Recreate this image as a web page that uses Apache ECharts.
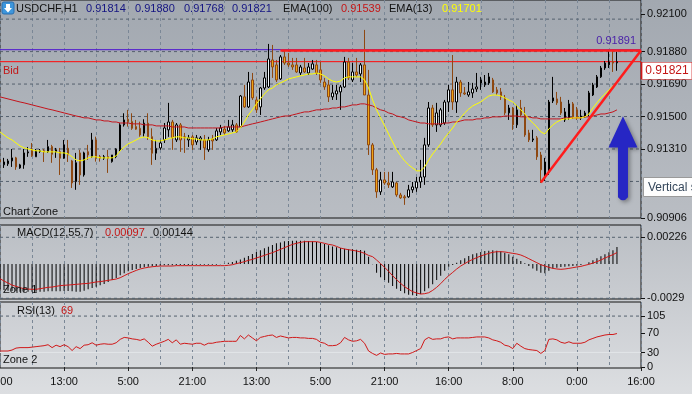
<!DOCTYPE html>
<html><head><meta charset="utf-8">
<script src="https://cdn.jsdelivr.net/npm/echarts@6/dist/echarts.min.js"></script>
<style>
html,body{margin:0;padding:0;}
#c{width:692px;height:394px;background:linear-gradient(180deg,#a2a8b0 0%,#b9bdc3 55%,#dcdee1 100%);}
</style>
</head><body><div id="c"></div>
<script>
// ---------- DATA ----------
const symbolName = 'USDCHF,H1';
const tickLabels = ['21:00','13:00','5:00','21:00','13:00','5:00','21:00','16:00','8:00','0:00','16:00'];
// candles: [open, close, low, high]
const candles = [
[0.91246,0.91234,0.91211,0.91258],[0.91217,0.91234,0.91199,0.91258],[0.91223,0.91240,0.91211,0.91252],[0.91240,0.91258,0.91205,0.91310],
[0.91258,0.91205,0.91188,0.91264],[0.91199,0.91217,0.91194,0.91223],[0.91217,0.91287,0.91194,0.91310],[0.91287,0.91293,0.91264,0.91322],
[0.91305,0.91270,0.91264,0.91345],[0.91264,0.91299,0.91264,0.91310],[0.91296,0.91300,0.91287,0.91310],[0.91300,0.91293,0.91234,0.91310],
[0.91294,0.91324,0.91287,0.91363],[0.91324,0.91279,0.91229,0.91334],[0.91294,0.91305,0.91258,0.91316],[0.91294,0.91256,0.91158,0.91316],
[0.91256,0.91334,0.91252,0.91363],[0.91314,0.91275,0.91234,0.91363],[0.91240,0.91111,0.91082,0.91246],[0.91119,0.91230,0.91071,0.91287],
[0.91287,0.91158,0.91100,0.91305],[0.91158,0.91287,0.91148,0.91294],[0.91294,0.91275,0.91246,0.91334],[0.91265,0.91363,0.91258,0.91404],
[0.91363,0.91256,0.91236,0.91382],[0.91265,0.91256,0.91236,0.91275],[0.91256,0.91265,0.91246,0.91275],[0.91265,0.91256,0.91170,0.91305],
[0.91236,0.91275,0.91230,0.91275],[0.91265,0.91309,0.91256,0.91314],[0.91305,0.91451,0.91295,0.91461],[0.91451,0.91480,0.91441,0.91519],
[0.91484,0.91470,0.91441,0.91539],[0.91470,0.91431,0.91422,0.91519],[0.91441,0.91426,0.91422,0.91480],[0.91431,0.91392,0.91382,0.91470],
[0.91402,0.91461,0.91382,0.91484],[0.91461,0.91382,0.91363,0.91519],[0.91382,0.91285,0.91217,0.91431],[0.91285,0.91314,0.91246,0.91363],
[0.91316,0.91345,0.91305,0.91363],[0.91363,0.91433,0.91345,0.91462],[0.91422,0.91468,0.91381,0.91580],[0.91468,0.91375,0.91305,0.91480],
[0.91363,0.91451,0.91351,0.91462],[0.91451,0.91363,0.91293,0.91462],[0.91381,0.91375,0.91287,0.91404],[0.91363,0.91375,0.91322,0.91392],
[0.91381,0.91334,0.91305,0.91392],[0.91351,0.91375,0.91334,0.91392],[0.91363,0.91375,0.91305,0.91386],[0.91363,0.91316,0.91246,0.91392],
[0.91305,0.91363,0.91293,0.91381],[0.91369,0.91357,0.91305,0.91392],[0.91363,0.91416,0.91357,0.91433],[0.91410,0.91433,0.91392,0.91451],
[0.91427,0.91404,0.91392,0.91445],[0.91416,0.91439,0.91410,0.91480],[0.91422,0.91451,0.91410,0.91480],[0.91451,0.91410,0.91404,0.91462],
[0.91439,0.91620,0.91433,0.91626],[0.91615,0.91556,0.91550,0.91685],[0.91556,0.91702,0.91550,0.91761],[0.91714,0.91609,0.91597,0.91755],
[0.91597,0.91539,0.91521,0.91615],[0.91556,0.91667,0.91509,0.91673],[0.91667,0.91726,0.91656,0.91761],[0.91673,0.91837,0.91667,0.91925],
[0.91831,0.91790,0.91726,0.91919],[0.91802,0.91714,0.91702,0.91831],[0.91720,0.91849,0.91714,0.91860],[0.91849,0.91813,0.91802,0.91890],
[0.91813,0.91802,0.91790,0.91872],[0.91802,0.91790,0.91773,0.91843],[0.91802,0.91761,0.91755,0.91843],[0.91755,0.91790,0.91743,0.91802],
[0.91784,0.91761,0.91755,0.91843],[0.91755,0.91790,0.91743,0.91813],[0.91778,0.91808,0.91773,0.91831],[0.91802,0.91755,0.91743,0.91831],
[0.91773,0.91714,0.91697,0.91819],[0.91702,0.91673,0.91656,0.91726],[0.91685,0.91615,0.91585,0.91714],[0.91615,0.91638,0.91597,0.91685],
[0.91632,0.91650,0.91597,0.91685],[0.91644,0.91673,0.91539,0.91685],[0.91673,0.91819,0.91667,0.91849],[0.91819,0.91726,0.91714,0.91843],
[0.91714,0.91761,0.91702,0.91813],[0.91761,0.91743,0.91732,0.91843],[0.91749,0.91802,0.91702,0.91813],[0.91802,0.91626,0.91626,0.92007],
[0.91626,0.91334,0.91275,0.91773],[0.91334,0.91188,0.91158,0.91345],[0.91188,0.91059,0.91024,0.91199],[0.91059,0.91129,0.91041,0.91176],
[0.91129,0.91111,0.91100,0.91176],[0.91111,0.91100,0.91082,0.91176],[0.91088,0.91117,0.91082,0.91176],[0.91111,0.91041,0.91030,0.91117],
[0.91041,0.91024,0.91018,0.91053],[0.91030,0.91024,0.90983,0.91041],[0.91030,0.91071,0.91024,0.91100],[0.91071,0.91088,0.91053,0.91117],
[0.91082,0.91117,0.91059,0.91146],[0.91117,0.91146,0.91082,0.91246],[0.91146,0.91334,0.91100,0.91375],[0.91334,0.91550,0.91322,0.91585],
[0.91550,0.91451,0.91439,0.91568],[0.91451,0.91521,0.91410,0.91580],[0.91451,0.91539,0.91439,0.91550],[0.91462,0.91585,0.91451,0.91597],
[0.91585,0.91656,0.91527,0.91685],[0.91656,0.91585,0.91539,0.91860],[0.91585,0.91702,0.91521,0.91732],[0.91702,0.91638,0.91615,0.91714],
[0.91638,0.91632,0.91626,0.91673],[0.91626,0.91644,0.91615,0.91702],[0.91638,0.91661,0.91609,0.91697],[0.91661,0.91673,0.91644,0.91755],
[0.91696,0.91714,0.91656,0.91732],[0.91685,0.91702,0.91673,0.91743],[0.91696,0.91732,0.91685,0.91755],[0.91714,0.91644,0.91638,0.91726],
[0.91656,0.91638,0.91626,0.91673],[0.91644,0.91615,0.91597,0.91667],[0.91609,0.91521,0.91509,0.91626],[0.91521,0.91550,0.91480,0.91568],
[0.91550,0.91451,0.91422,0.91556],[0.91451,0.91539,0.91433,0.91568],[0.91550,0.91509,0.91498,0.91597],[0.91509,0.91392,0.91381,0.91556],
[0.91404,0.91363,0.91351,0.91422],[0.91363,0.91369,0.91351,0.91422],[0.91375,0.91264,0.91246,0.91386],[0.91275,0.91188,0.91111,0.91293],
[0.91141,0.91234,0.91123,0.91258],[0.91176,0.91585,0.91158,0.91597],[0.91591,0.91609,0.91579,0.91732],[0.91603,0.91580,0.91568,0.91644],
[0.91585,0.91521,0.91509,0.91615],[0.91480,0.91527,0.91468,0.91550],[0.91492,0.91574,0.91480,0.91597],[0.91574,0.91498,0.91486,0.91585],
[0.91539,0.91492,0.91480,0.91556],[0.91492,0.91503,0.91480,0.91539],[0.91498,0.91521,0.91492,0.91533],[0.91521,0.91638,0.91503,0.91650],
[0.91626,0.91685,0.91620,0.91697],[0.91673,0.91732,0.91667,0.91743],[0.91732,0.91784,0.91726,0.91796],[0.91784,0.91813,0.91773,0.91825],
[0.91802,0.91819,0.91784,0.91890],[0.91819,0.91813,0.91761,0.91891],[0.91814,0.91821,0.91768,0.91880]
];
const ema100 = [
0.91615,0.91609,0.91603,0.91597,0.91591,0.91585,0.91580,0.91574,0.91568,
0.91562,0.91556,0.91550,0.91544,0.91539,0.91533,0.91527,0.91521,
0.91515,0.91509,0.91503,0.91498,0.91492,0.91492,0.91486,0.91480,
0.91480,0.91474,0.91474,0.91468,0.91468,0.91462,
0.91462,0.91462,0.91457,0.91457,0.91457,0.91451,0.91451,0.91451,0.91445,0.91445,
0.91445,0.91445,0.91439,0.91439,0.91439,0.91439,0.91433,0.91433,
0.91433,0.91433,0.91433,0.91433,0.91433,0.91433,0.91433,0.91439,0.91439,0.91439,0.91439,
0.91439,0.91445,0.91451,0.91457,0.91462,
0.91468,0.91474,0.91480,0.91486,0.91492,
0.91498,0.91503,0.91503,0.91509,0.91515,
0.91521,0.91527,0.91527,0.91533,0.91539,
0.91539,0.91544,0.91544,0.91550,0.91550,
0.91556,0.91556,0.91562,0.91568,0.91568,0.91574,0.91574,
0.91568,0.91562,0.91550,
0.91539,0.91533,0.91521,0.91515,0.91503,0.91498,
0.91492,0.91480,0.91474,0.91468,0.91462,
0.91462,0.91457,0.91457,0.91457,0.91457,
0.91462,0.91462,0.91468,0.91468,0.91474,
0.91480,0.91480,0.91480,0.91486,0.91486,
0.91492,0.91492,0.91498,0.91498,0.91498,0.91503,0.91503,0.91503,
0.91503,0.91498,0.91498,0.91498,0.91492,0.91492,0.91486,0.91486,
0.91486,0.91486,0.91486,0.91486,0.91492,0.91492,0.91492,0.91492,0.91492,
0.91498,0.91498,0.91503,0.91509,0.91515,0.91515,0.91521,0.91527,0.91539
];
const ema13 = [
0.91410,0.91392,0.91375,0.91363,0.91345,0.91328,0.91316,0.91310,0.91305,0.91299,
0.91299,0.91293,0.91293,0.91293,0.91293,0.91287,0.91287,0.91281,0.91264,0.91246,
0.91240,0.91246,0.91258,0.91264,0.91264,0.91258,0.91258,0.91258,0.91258,0.91270,
0.91299,0.91322,0.91340,0.91351,0.91363,0.91375,0.91381,0.91375,0.91363,0.91357,
0.91357,0.91363,0.91369,0.91375,0.91381,0.91381,0.91375,0.91375,0.91369,0.91369,
0.91363,0.91363,0.91363,0.91369,0.91381,0.91386,0.91392,0.91398,0.91404,0.91410,
0.91433,0.91468,0.91509,0.91539,0.91574,0.91603,0.91632,0.91656,0.91667,0.91685,
0.91697,0.91708,0.91720,0.91726,0.91732,0.91738,0.91743,0.91749,0.91749,0.91755,
0.91749,0.91738,0.91720,0.91708,0.91702,0.91708,0.91726,0.91732,0.91732,0.91732,
0.91732,0.91714,0.91667,0.91597,0.91539,0.91492,0.91445,0.91398,0.91351,0.91305,
0.91270,0.91240,0.91217,0.91199,0.91182,0.91182,0.91205,0.91246,0.91281,0.91310,
0.91340,0.91375,0.91404,0.91433,0.91468,0.91492,0.91521,0.91544,0.91562,0.91574,
0.91585,0.91603,0.91620,0.91626,0.91626,0.91620,0.91609,0.91597,0.91585,0.91562,
0.91539,0.91515,0.91486,0.91462,0.91439,0.91410,0.91398,0.91427,0.91451,0.91468,
0.91480,0.91486,0.91486,0.91492,0.91492,0.91492,0.91498,0.91515,0.91550,0.91580,
0.91609,0.91632,0.91656,0.91679,0.91701
];
const macdMain = [
-0.00214,-0.00220,-0.00226,-0.00228,-0.00231,-0.00234,-0.00234,-0.00234,-0.00234,-0.00234,
-0.00234,-0.00234,-0.00231,-0.00231,-0.00231,-0.00231,-0.00228,-0.00228,-0.00231,-0.00234,
-0.00234,-0.00226,-0.00214,-0.00203,-0.00192,-0.00180,-0.00169,-0.00152,-0.00135,-0.00118,
-0.00096,-0.00079,-0.00062,-0.00051,-0.00042,-0.00034,-0.00028,-0.00023,-0.00020,-0.00017,
-0.00014,-0.00011,-0.00011,-0.00011,-0.00008,-0.00008,-0.00008,-0.00008,-0.00008,-0.00006,
-0.00006,-0.00006,-0.00006,-0.00006,-0.00006,-0.00003,0.00003,0.00011,0.00017,0.00028,
0.00039,0.00054,0.00068,0.00085,0.00102,0.00116,0.00133,0.00147,0.00161,0.00175,
0.00183,0.00192,0.00195,0.00197,0.00197,0.00197,0.00197,0.00195,0.00192,0.00186,
0.00180,0.00169,0.00158,0.00149,0.00141,0.00135,0.00130,0.00124,0.00124,0.00121,
0.00118,0.00113,0.00062,-0.00002,-0.00073,-0.00113,-0.00135,-0.00158,-0.00186,-0.00209,
-0.00228,-0.00248,-0.00259,-0.00265,-0.00271,-0.00254,-0.00231,-0.00206,-0.00172,-0.00135,
-0.00099,-0.00056,-0.00023,-0.00008,0.00011,0.00031,0.00048,0.00068,0.00082,0.00090,
0.00102,0.00110,0.00113,0.00116,0.00113,0.00107,0.00096,0.00082,0.00062,0.00045,
0.00025,0.00006,-0.00017,-0.00037,-0.00056,-0.00073,-0.00079,-0.00056,-0.00039,-0.00031,
-0.00025,-0.00023,-0.00020,-0.00017,-0.00014,-0.00008,0.00001,0.00014,0.00031,0.00048,
0.00065,0.00082,0.00099,0.00116,0.00144
];
const macdSignal = [
-0.00124,-0.00144,-0.00161,-0.00178,-0.00189,-0.00200,-0.00209,-0.00212,-0.00214,-0.00214,
-0.00209,-0.00203,-0.00197,-0.00195,-0.00189,-0.00183,-0.00180,-0.00178,-0.00175,-0.00172,
-0.00169,-0.00166,-0.00164,-0.00158,-0.00152,-0.00149,-0.00144,-0.00138,-0.00133,-0.00127,
-0.00116,-0.00099,-0.00082,-0.00068,-0.00054,-0.00042,-0.00034,-0.00028,-0.00023,-0.00020,
-0.00017,-0.00017,-0.00017,-0.00017,-0.00014,-0.00014,-0.00014,-0.00014,-0.00014,-0.00014,
-0.00014,-0.00014,-0.00014,-0.00014,-0.00014,-0.00014,-0.00014,-0.00011,-0.00006,0.00003,
0.00011,0.00020,0.00031,0.00039,0.00051,0.00062,0.00073,0.00085,0.00096,0.00110,
0.00124,0.00138,0.00152,0.00166,0.00175,0.00183,0.00189,0.00189,0.00189,0.00189,
0.00183,0.00175,0.00166,0.00161,0.00149,0.00135,0.00127,0.00121,0.00116,0.00110,
0.00102,0.00090,0.00073,0.00062,0.00034,0.00003,-0.00028,-0.00062,-0.00099,-0.00133,
-0.00164,-0.00192,-0.00214,-0.00234,-0.00245,-0.00254,-0.00251,-0.00243,-0.00223,-0.00197,
-0.00166,-0.00130,-0.00099,-0.00071,-0.00042,-0.00017,0.00003,0.00023,0.00039,0.00054,
0.00068,0.00079,0.00090,0.00099,0.00104,0.00104,0.00102,0.00096,0.00090,0.00085,
0.00076,0.00062,0.00045,0.00028,0.00011,-0.00006,-0.00017,-0.00028,-0.00037,-0.00042,
-0.00045,-0.00042,-0.00037,-0.00031,-0.00025,-0.00020,-0.00011,-0.00003,0.00008,0.00020,
0.00034,0.00051,0.00065,0.00079,0.00097
];
const rsi = [
33,33,33,35,39,40,40,40,41,42,43,44,46,40,45,42,46,42,34,42,
38,45,46,50,45,47,48,47,47,50,57,61,60,58,57,55,58,51,43,47,
50,53,57,50,56,47,49,48,47,49,49,45,49,49,51,52,53,53,53,53,
65,58,66,60,54,61,63,65,66,61,64,62,60,61,61,60,60,59,59,57,
51,49,44,44,45,50,61,56,53,54,57,49,33,28,24,29,26,27,27,28,
27,27,27,30,34,38,56,61,57,58,58,61,62,58,60,60,60,60,61,62,
62,62,60,56,54,51,45,43,38,49,43,38,36,35,34,28,34,57,58,56,
51,49,52,49,49,49,51,56,59,62,64,66,67,67,69
];
const priceTicks = [0.90906, 0.91310, 0.91500, 0.91690, 0.91880, 0.92100];
const priceGrid = [0.91120, 0.91310, 0.91500, 0.91690, 0.91880, 0.92070];
const macdTicks = [-0.0029, 0.00226];
const macdTickText = ['-0.0029', '0.00226'];
const rsiTicks = [0, 30, 70, 105];
const rsiGrid = [105];
const rsiLevel = [30];
const bidPrice = 0.91821;
const highPrice = 0.91891;
const resistance = { from: 70, to: 160, price: 0.91886 };
const trendLine = { from: 135, low: 0.91114, to: 160, high: 0.91886 };
const arrowAnchor = { bar: 155, price: 0.91255 };

// ---------- CHART ----------
const FONT = '"Liberation Sans", Arial, sans-serif';
const cats = Array.from({ length: (tickLabels.length - 1) * 16 + 1 }, (_, i) => String(i));
const firstCat = cats[0], lastCat = cats[cats.length - 1];
const last = candles[candles.length - 1];
const gridLine = { color: '#7a8796', type: [3, 3], width: 1 };
const gridLineH = { color: '#55616e', type: [3, 3], width: 1 };
const fmt5 = v => v.toFixed(5);
const PRICE_MIN = 0.90906, PRICE_MAX = 0.92182;
const MACD_MIN = -0.00296, MACD_MAX = 0.0033;
const RSI_MIN = -2, RSI_MAX = 134;

// full-width horizontal level lines, drawn as line-series data through the axes
const levelData = vals => vals.flatMap(v => [[firstCat, v], [lastCat, v], null]);
const levelSeries = (xi, yi, vals, style, z) => ({
  type: 'line', xAxisIndex: xi, yAxisIndex: yi, data: levelData(vals), z: z || 1,
  showSymbol: false, silent: true, connectNulls: false, lineStyle: style
});

function xAx(g, showLabels) {
  return {
    type: 'category', gridIndex: g, data: cats, boundaryGap: false,
    axisLine: { show: false },
    axisTick: { show: showLabels, interval: 15, length: 4, lineStyle: { color: '#222' } },
    axisLabel: { show: showLabels, interval: 15, showMinLabel: false,
      formatter: (v, i) => (i === 0 ? '' : (tickLabels[Math.round(i / 16)] || '')),
      fontFamily: FONT, fontSize: 11, color: '#111', margin: 8 },
    splitLine: { show: true, interval: 7, lineStyle: gridLine }
  };
}
function yAx(g, min, max, ticks, fmt) {
  return {
    type: 'value', gridIndex: g, position: 'right', min: min, max: max, scale: true,
    splitLine: { show: false }, axisLine: { show: false },
    axisTick: { show: true, customValues: ticks, length: 4, lineStyle: { color: '#111' } },
    axisLabel: { customValues: ticks, formatter: fmt, fontFamily: FONT, fontSize: 11, color: '#111', margin: 6 }
  };
}

const txt = (x, y, text, fill, size, align) => ({
  type: 'text', x: x, y: y, z: 100,
  style: { text: text, fill: fill, font: (size || 11) + 'px ' + FONT, verticalAlign: 'middle', align: align || 'left' }
});

const arrowPath = 'path://M14.5 0 L29 30 L19.5 30 L19.5 78 Q14.5 84 9.5 78 L9.5 30 L0 30 Z';

const option = {
  animation: false,
  backgroundColor: 'transparent',
  grid: [
    { left: 0, right: 51, top: 0, height: 218, show: true, borderColor: '#151515', borderWidth: 1, backgroundColor: 'transparent' },
    { left: 0, right: 51, top: 225, height: 74, show: true, borderColor: '#151515', borderWidth: 1, backgroundColor: 'transparent' },
    { left: 0, right: 51, top: 302, height: 66, show: true, borderColor: '#151515', borderWidth: 1, backgroundColor: 'transparent' }
  ],
  xAxis: [xAx(0, false), xAx(1, false), xAx(2, true)],
  yAxis: [
    yAx(0, PRICE_MIN, PRICE_MAX, priceTicks, fmt5),
    yAx(1, MACD_MIN, MACD_MAX, macdTicks, v => macdTickText[macdTicks.indexOf(v)] ?? String(v)),
    yAx(2, RSI_MIN, RSI_MAX, rsiTicks, v => String(v))
  ],
  series: [
    levelSeries(0, 0, priceGrid, gridLineH, 1),
    levelSeries(0, 0, [highPrice], { color: '#4a10d0', width: 1, type: 'solid' }, 2),
    levelSeries(0, 0, [bidPrice], { color: '#ff0a0a', width: 1, type: 'solid' }, 2),
    levelSeries(1, 1, macdTicks, gridLineH, 1),
    levelSeries(2, 2, rsiGrid, gridLineH, 1),
    levelSeries(2, 2, rsiLevel, { color: '#e2e5e8', width: 1, type: 'solid' }, 1),
    {
      type: 'candlestick', xAxisIndex: 0, yAxisIndex: 0, data: candles, z: 3, barWidth: 2,
      itemStyle: { color: '#f2f7fb', color0: '#f0a414', borderColor: '#000000', borderColor0: '#8e4812', borderWidth: 1 }
    },
    { type: 'line', name: 'EMA(100)', xAxisIndex: 0, yAxisIndex: 0, data: ema100, z: 4, showSymbol: false, silent: true,
      lineStyle: { color: '#c4141c', width: 1 } },
    { type: 'line', name: 'EMA(13)', xAxisIndex: 0, yAxisIndex: 0, data: ema13, z: 4, showSymbol: false, silent: true,
      lineStyle: { color: '#ffff00', width: 1 } },
    { // trend lines, bid box, arrow
      type: 'line', xAxisIndex: 0, yAxisIndex: 0, data: [], z: 6, silent: true, clip: false,
      markLine: { silent: true, symbol: 'none', animation: false, precision: 8, label: { show: false },
        lineStyle: { color: '#ff1c1c', width: 2.5, type: 'solid' },
        data: [
          [{ coord: [String(resistance.from), resistance.price] }, { coord: [String(resistance.to), resistance.price] }],
          [{ coord: [String(trendLine.from), trendLine.low] }, { coord: [String(trendLine.to), trendLine.high] }]
        ] },
      markPoint: { silent: true, animation: false,
        data: [
          { coord: [lastCat, bidPrice], symbol: 'rect', symbolSize: [51, 17], symbolOffset: [26, 9],
            itemStyle: { color: '#ffffff', borderColor: '#d01818', borderWidth: 1 },
            label: { show: true, position: 'inside', formatter: fmt5(bidPrice), color: '#c41616', fontFamily: FONT, fontSize: 12 } },
          { coord: [String(arrowAnchor.bar), arrowAnchor.price], symbol: arrowPath, symbolSize: [29, 84], symbolOffset: [2, 0],
            itemStyle: { color: '#2626c4', shadowBlur: 4, shadowColor: 'rgba(0,0,0,0.35)', shadowOffsetX: 2, shadowOffsetY: 2 },
            label: { show: false } }
        ] }
    },
    { type: 'bar', name: 'MACD', xAxisIndex: 1, yAxisIndex: 1, data: macdMain, z: 3, barWidth: 1, silent: true,
      itemStyle: { color: '#000000' } },
    { type: 'line', name: 'Signal', xAxisIndex: 1, yAxisIndex: 1, data: macdSignal, z: 4, showSymbol: false, silent: true,
      lineStyle: { color: '#d01818', width: 1 } },
    { type: 'line', name: 'RSI(13)', xAxisIndex: 2, yAxisIndex: 2, data: rsi, z: 4, showSymbol: false, silent: true,
      lineStyle: { color: '#d01818', width: 1 } }
  ],
  graphic: [
    { type: 'rect', x: 2, y: 2, z: 100, shape: { width: 12, height: 12, r: 2 },
      style: { fill: '#3d96dc', stroke: '#2a6fb0', lineWidth: 1 } },
    { type: 'polygon', z: 101, shape: { points: [[6, 4], [10, 4], [10, 8], [12, 8], [8, 12.5], [4, 8], [6, 8]] },
      style: { fill: '#ffffff' } },
    txt(16, 9, symbolName, '#111'),
    txt(86, 9, fmt5(last[0]), '#141482'),
    txt(135, 9, fmt5(last[3]), '#141482'),
    txt(184, 9, fmt5(last[2]), '#141482'),
    txt(232, 9, fmt5(last[1]), '#141482'),
    txt(283, 9, 'EMA(100)', '#111'),
    txt(341, 9, fmt5(ema100[ema100.length - 1]), '#c41616'),
    txt(389, 9, 'EMA(13)', '#111'),
    txt(442, 9, fmt5(ema13[ema13.length - 1]), '#ffff00'),
    txt(636, 41, fmt5(highPrice), '#4b22a8', 11, 'right'),
    txt(3, 71, 'Bid', '#c41616'),
    txt(3, 212, 'Chart Zone', '#111'),
    txt(17, 233, 'MACD(12,55,7)', '#111'),
    txt(105, 233, fmt5(macdSignal[macdSignal.length - 1]), '#c41616'),
    txt(153, 233, fmt5(macdMain[macdMain.length - 1]), '#111'),
    txt(3, 290, 'Zone 1', '#111'),
    txt(17, 311, 'RSI(13)', '#111'),
    txt(61, 311, String(rsi[rsi.length - 1]), '#c41616'),
    txt(3, 360, 'Zone 2', '#111'),
    // first time label, clipped by the left edge as in the terminal
    txt(12.5, 382, tickLabels[0], '#111', 11, 'right'),
    { type: 'rect', x: 643.5, y: 177.5, z: 100, shape: { width: 52, height: 19 },
      style: { fill: '#fdfdfd', stroke: '#9a9a9a', lineWidth: 1 } },
    txt(648, 187.5, 'Vertical s', '#34465a', 12)
  ]
};

const chart = echarts.init(document.getElementById('c'), null, { renderer: 'canvas' });
chart.setOption(option);
</script>
</body></html>
